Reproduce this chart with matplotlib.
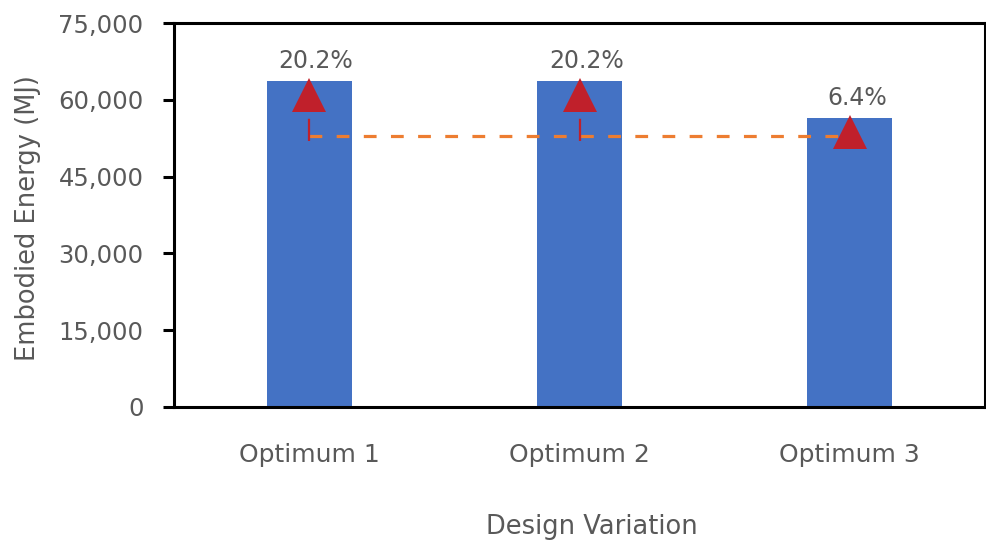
import matplotlib
matplotlib.use("Agg")
import matplotlib.pyplot as plt
from matplotlib.ticker import FuncFormatter, FixedLocator
from matplotlib.transforms import offset_copy

# Data
categories = ["Optimum 1", "Optimum 2", "Optimum 3"]
energy = [63700, 63700, 56400]          # embodied energy (MJ)
baseline = 53000                        # reference design energy (MJ)
increase_labels = ["20.2%", "20.2%", "6.4%"]
y_ticks = [0, 15000, 30000, 45000, 60000, 75000]

BAR_COLOR = "#4472C4"
ARROW_COLOR = "#C0202B"
LINE_COLOR = "#ED7D31"
TEXT_COLOR = "#595959"

fig = plt.figure(figsize=(9.86, 5.40), dpi=100)
ax = fig.add_axes([174 / 986, 133 / 540, 811 / 986, 384 / 540])

x = list(range(len(categories)))
ax.bar(x, energy, width=0.315, color=BAR_COLOR, zorder=2)

# Baseline reference line across the optima
ax.plot([x[0], x[-1]], [baseline, baseline], color=LINE_COLOR, lw=2.3,
        linestyle=(0, (4, 4.5)), zorder=3, solid_capstyle="butt",
        dash_capstyle="butt")

# Arrows showing the increase over the baseline
stem_tr = offset_copy(ax.transData, fig=fig, x=0, y=-4, units="points")
ax.vlines(x, baseline, energy, colors=ARROW_COLOR, lw=1.6,
          linestyles=[(0, (10, 5))], zorder=4, transform=stem_tr)
tri_tr = offset_copy(ax.transData, fig=fig, x=0, y=-10, units="points")
ax.plot(x, energy, linestyle="none", marker="^", markersize=24,
        color=ARROW_COLOR, markeredgewidth=0, transform=tri_tr, zorder=5)

# Percentage labels
lab_tr = offset_copy(ax.transData, fig=fig, x=5, y=9.5, units="points")
for xi, val, txt in zip(x, energy, increase_labels):
    ax.text(xi, val, txt, transform=lab_tr, ha="center", va="baseline",
            fontsize=17, color=TEXT_COLOR, zorder=6)

ax.set_xlim(-0.5, 2.5)
ax.set_ylim(0, 75000)
ax.yaxis.set_major_locator(FixedLocator(y_ticks))
ax.yaxis.set_major_formatter(FuncFormatter(lambda v, p: f"{int(v):,}"))
ax.set_xticks(x)
ax.set_xticklabels(categories)

for side in ["left", "bottom", "top", "right"]:
    ax.spines[side].set_linewidth(2.2)
    ax.spines[side].set_color("black")

ax.tick_params(axis="y", direction="out", length=8, width=2.2, pad=14,
               labelsize=17.5, labelcolor=TEXT_COLOR)
ax.tick_params(axis="x", length=0, pad=26, labelsize=18,
               labelcolor=TEXT_COLOR)

ax.set_xlabel("Design Variation", fontsize=18.5, color=TEXT_COLOR)
ax.xaxis.set_label_coords((592 - 174) / 811, (407 - 527) / 384)
ax.xaxis.label.set_va("center")
ax.set_ylabel("Embodied Energy (MJ)", fontsize=18.5, color=TEXT_COLOR)
ax.yaxis.set_label_coords((28 - 174) / 811, (407 - 218) / 384)
ax.yaxis.label.set_va("center")

fig.savefig("out.png", dpi=100)
